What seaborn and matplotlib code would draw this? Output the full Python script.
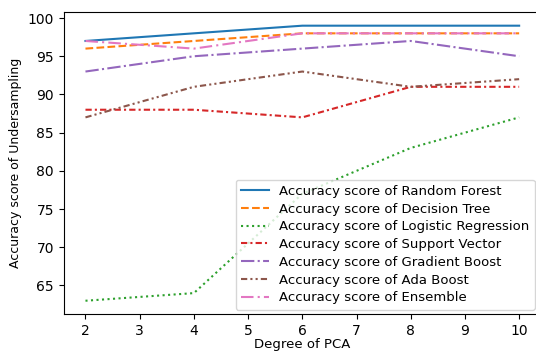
import matplotlib
matplotlib.use("Agg")
import matplotlib.pyplot as plt
import seaborn as sns

degrees = [2, 4, 6, 8, 10]
random_forest = [97, 98, 99, 99, 99]
decision_tree = [96, 97, 98, 98, 98]
logistic_regression = [63, 64, 77, 83, 87]
support_vector = [88, 88, 87, 91, 91]
gradient_boost = [93, 95, 96, 97, 95]
ada_boost = [87, 91, 93, 91, 92]
ensemble = [97, 96, 98, 98, 98]

series = [
    ("Random Forest", random_forest, "-"),
    ("Decision Tree", decision_tree, "--"),
    ("Logistic Regression", logistic_regression, ":"),
    ("Support Vector", support_vector, (0, (3, 1.5, 1, 1.5))),
    ("Gradient Boost", gradient_boost, "-."),
    ("Ada Boost", ada_boost, (0, (3, 1.5, 1, 1.5, 1, 1.5))),
    ("Ensemble", ensemble, (0, (6, 2, 1, 2))),
]

fig = plt.figure(figsize=(5.36, 3.51), dpi=100)
ax = fig.add_axes([0.119, 0.104, 0.89, 0.862])
palette = sns.color_palette("tab10")

for i, (name, vals, ls) in enumerate(series):
    sns.lineplot(x=degrees, y=vals, ax=ax, color=palette[i], linestyle=ls,
                 linewidth=1.5, label="Accuracy score of " + name)

ax.set_xlabel("Degree of PCA", fontsize=9.5, labelpad=0)
ax.set_ylabel("Accuracy score of Undersampling", fontsize=9)
ax.set_xticks(range(2, 11))
ax.set_yticks([65, 70, 75, 80, 85, 90, 95, 100])
ax.tick_params(axis="x", pad=3)
ax.legend(loc="lower right", bbox_to_anchor=(0.998, 0.118), bbox_transform=fig.transFigure,
          fontsize=9.5, handlelength=2.1, labelspacing=0.36, borderaxespad=0.0)

fig.savefig("out.png", dpi=100)
